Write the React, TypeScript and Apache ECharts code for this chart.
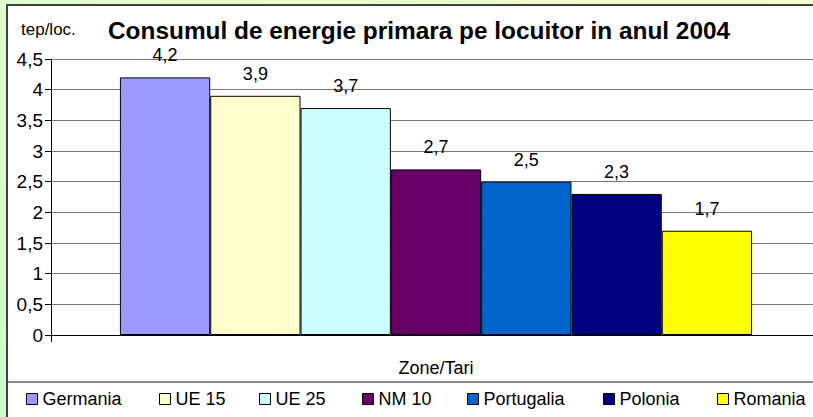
import React, { useEffect, useRef } from "react";
import * as echarts from "echarts";

const categories = ["Germania", "UE 15", "UE 25", "NM 10", "Portugalia", "Polonia", "Romania"];
const values = [4.2, 3.9, 3.7, 2.7, 2.5, 2.3, 1.7];
const colors = ["#9999FF", "#FFFFCC", "#CCFFFF", "#660066", "#0066CC", "#000080", "#FFFF00"];
const legendLeft = [26, 159, 259, 362, 467, 603, 717];
const yTicks = { min: 0, max: 4.5, interval: 0.5 };
const titleText = "Consumul de energie primara pe locuitor in anul 2004";
const unitText = "tep/loc.";
const xAxisName = "Zone/Tari";

const FONT = '"Liberation Sans", Arial, sans-serif';
const comma = (v: number) => String(v).replace(".", ",");

export default function App() {
  const ref = useRef<HTMLDivElement>(null);
  useEffect(() => {
    document.body.style.margin = "0";
    if (!ref.current) return;
    const chart = echarts.init(ref.current, null, { renderer: "svg" });
    chart.setOption({
      animation: false,
      backgroundColor: "transparent",
      textStyle: { fontFamily: FONT, color: "#000" },
      title: [
        {
          text: titleText,
          left: 103,
          top: 13,
          textStyle: { fontFamily: FONT, fontSize: 24.4, fontWeight: "bold", color: "#000" },
        },
        {
          text: unitText,
          left: 16,
          top: 16,
          textStyle: { fontFamily: FONT, fontSize: 17, fontWeight: "normal", color: "#000" },
        },
      ],
      legend: categories.map((c, i) => ({
        data: [c],
        left: legendLeft[i],
        top: 390,
        itemWidth: 11,
        itemHeight: 11,
        itemGap: 5,
        icon: "rect",
        itemStyle: { borderColor: "#000", borderWidth: 1 },
        textStyle: { fontFamily: FONT, fontSize: 18, color: "#000", padding: [0, 0, 0, 0] },
        padding: 0,
        selectedMode: false,
      })),
      grid: { left: 51, right: 9, top: 59, bottom: 82, containLabel: false },
      xAxis: {
        type: "category",
        data: [""],
        name: xAxisName,
        nameLocation: "middle",
        nameGap: 24,
        nameTextStyle: { fontFamily: FONT, fontSize: 18, color: "#000", verticalAlign: "top" },
        axisLine: { show: true, lineStyle: { color: "#000", width: 1 } },
        axisTick: { show: true, length: 7, lineStyle: { color: "#000" } },
        axisLabel: { show: false },
        splitLine: { show: false },
      },
      yAxis: {
        type: "value",
        min: yTicks.min,
        max: yTicks.max,
        interval: yTicks.interval,
        axisLine: { show: true, lineStyle: { color: "#000", width: 1 } },
        axisTick: { show: true, length: 6, lineStyle: { color: "#000" } },
        axisLabel: {
          margin: 8,
          fontFamily: FONT,
          fontSize: 19,
          color: "#000",
          formatter: (v: number) => comma(v),
        },
        splitLine: { show: true, lineStyle: { color: "#777", width: 1 } },
      },
      series: categories.map((c, i) => ({
        name: c,
        type: "bar",
        data: [values[i]],
        barGap: "0%",
        barCategoryGap: "17.9%",
        itemStyle: { color: colors[i], borderColor: "#000", borderWidth: 1 },
        label: {
          show: true,
          position: "top",
          distance: 13,
          fontFamily: FONT,
          fontSize: 18,
          color: "#000",
          formatter: (p: any) => comma(p.value),
        },
      })),
    });
    return () => chart.dispose();
  }, []);

  return (
    <div
      style={{
        position: "relative",
        width: 813,
        height: 417,
        overflow: "hidden",
        background: "linear-gradient(to top right, #ccfccc, #f8fdcc)",
      }}
    >
      <div
        style={{
          position: "absolute",
          left: 6,
          top: 4,
          width: 830,
          height: 430,
          background: "#fff",
          borderLeft: "2px solid #404040",
          borderTop: "2px solid #404040",
        }}
      />
      <div
        style={{
          position: "absolute",
          left: 8,
          top: 381,
          width: 805,
          height: 0,
          borderTop: "2px solid #888",
        }}
      />
      <div ref={ref} style={{ position: "absolute", left: 0, top: 0, width: 830, height: 417 }} />
    </div>
  );
}
